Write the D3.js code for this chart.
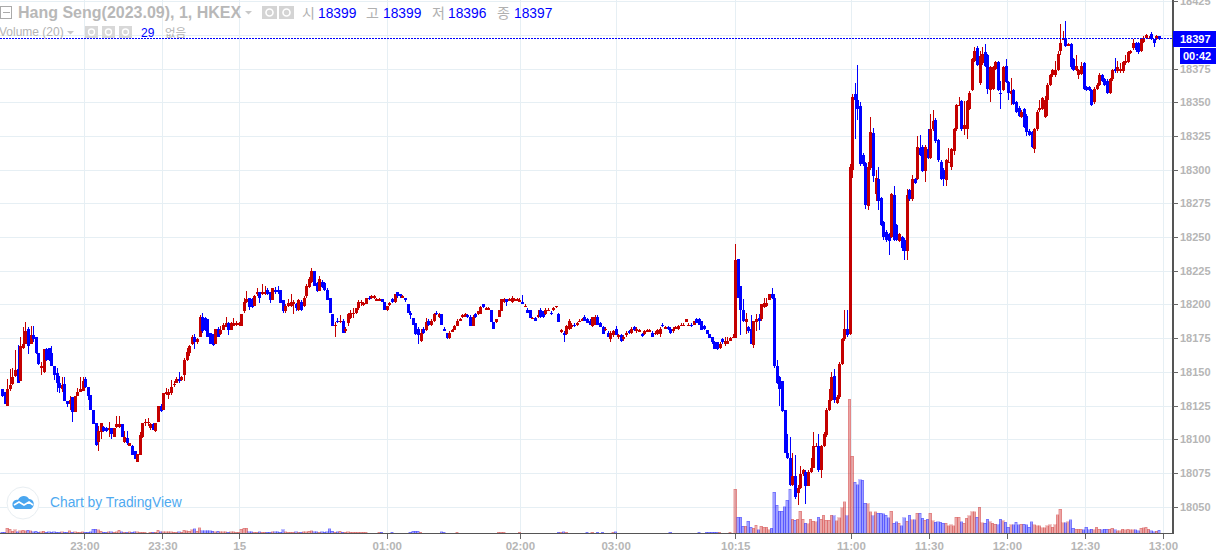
<!DOCTYPE html>
<html><head><meta charset="utf-8">
<script src="https://cdn.jsdelivr.net/npm/d3@7"></script>
<style>
html,body{margin:0;padding:0;background:#fff;overflow:hidden}
svg{display:block;font-family:"Liberation Sans",Arial,sans-serif}
.axis path,.axis line{shape-rendering:crispEdges}
</style></head><body><svg id="c" width="1216" height="551"></svg>
<script>
const priceBase = 18000;
const openOffsets = [
137,135,125,137,141,147,152,143,168,171,
182,171,177,176,164,153,150,167,168,164,
154,149,142,137,141,128,126,131,120,132,
135,136,145,139,133,122,112,98,105,109,
108,107,108,102,109,109,111,98,101,95,
95,91,83,88,102,112,113,108,111,106,
113,125,122,134,133,134,140,142,145,144,
148,159,164,171,176,172,176,191,190,189,
179,178,171,182,178,181,183,186,181,184,
186,185,184,195,202,205,204,199,208,209,
208,208,211,209,203,211,211,211,203,195,
199,199,200,200,196,202,199,206,213,217,
225,216,210,217,216,211,205,193,184,188,
187,188,180,186,190,193,194,197,201,200,
200,205,205,205,204,204,204,202,196,200,
204,202,209,208,206,205,200,194,190,186,
182,173,182,181,188,185,188,194,191,193,
182,179,175,181,181,184,189,191,191,192,
191,184,193,193,193,200,197,197,196,187,
187,191,195,202,204,204,202,204,204,203,
202,199,196,196,190,190,191,196,195,193,
196,194,196,198,193,181,179,178,182,183,
185,185,188,189,191,189,188,184,185,191,
186,183,181,179,174,177,182,176,177,174,
177,180,179,183,180,181,178,178,181,181,
179,178,178,178,185,183,183,182,180,183,
182,184,185,187,185,185,185,189,189,188,
184,181,178,176,172,172,168,174,171,171,
173,176,175,234,214,196,187,183,182,170,
187,190,189,198,199,203,208,205,154,146,
143,122,90,86,66,73,60,64,74,76,
65,76,79,95,95,77,95,103,122,129,
147,127,131,156,174,182,178,300,356,352,
347,311,305,273,301,327,282,293,279,261,
254,252,250,281,259,247,250,248,240,285,
278,293,293,316,317,299,315,309,330,337,
322,306,300,292,306,302,314,330,348,351,
330,330,345,359,381,390,364,379,387,385,
359,360,375,380,357,359,377,365,356,359,
350,346,339,345,340,329,328,315,330,344,
345,339,352,363,370,370,374,388,397,398,
393,393,382,374,370,371,379,361,361,359,
350,360,363,370,367,366,357,367,375,373,
373,373,379,380,387,390,394,394,388,395,
398,398,401,397,397,399];
const closeOffsets = [
132,126,137,140,146,151,142,169,171,180,
169,177,174,164,156,154,167,159,159,154,
148,142,138,140,128,126,129,120,132,135,
137,143,139,132,122,111,96,106,112,106,
106,108,104,108,111,111,102,102,97,97,
88,85,89,103,112,113,113,111,107,112,
125,121,134,135,135,139,141,145,143,146,
159,165,169,176,172,174,191,180,181,176,
171,170,182,176,181,185,186,181,186,186,
186,186,193,202,204,198,198,206,209,205,
209,209,208,203,212,209,209,201,195,199,
201,202,202,197,203,196,205,214,219,225,
214,210,219,213,211,203,194,184,185,187,
188,179,182,193,194,194,197,202,202,201,
205,204,206,206,204,204,202,196,199,201,
202,208,206,206,206,203,194,192,185,178,
177,179,179,187,185,188,193,193,193,185,
180,175,179,181,184,188,189,192,193,191,
184,191,191,195,198,198,197,197,187,182,
189,196,204,204,202,204,205,204,204,203,
200,199,194,190,190,188,192,191,191,196,
196,193,197,199,187,181,177,184,188,185,
184,186,188,189,188,186,185,191,191,185,
183,178,182,176,179,180,177,177,173,176,
179,179,182,181,182,181,177,180,181,181,
176,179,181,182,184,183,182,179,182,183,
184,185,185,189,185,184,188,186,185,181,
182,178,175,172,167,167,171,172,173,173,
175,176,233,205,196,188,189,180,171,188,
189,188,200,201,201,208,205,154,142,137,
121,90,86,66,73,57,64,74,77,65,
76,79,95,95,77,95,104,122,129,146,
129,131,156,174,182,177,302,354,352,345,
304,304,274,302,328,295,294,277,259,250,
248,247,282,248,248,252,242,240,281,278,
293,290,317,311,299,317,309,330,336,321,
307,293,293,307,306,315,330,348,348,330,
333,351,357,382,388,378,384,386,377,360,
376,376,380,359,356,376,365,357,358,349,
343,340,343,332,328,326,317,330,343,346,
353,352,363,370,374,374,386,394,397,392,
393,376,374,377,374,377,360,359,359,348,
360,363,370,366,363,357,367,374,373,376,
375,380,381,387,388,394,389,387,397,398,
400,398,397,394,399,397];
const highOffsets = [
137,135,145,152,153,166,170,176,183,187,
183,184,184,176,164,157,167,168,168,169,
154,153,147,146,146,128,132,131,132,138,
146,146,146,139,133,122,112,110,112,110,
109,113,108,108,117,117,111,106,106,97,
96,91,89,105,112,115,116,112,112,112,
125,126,134,138,137,144,143,146,150,147,
160,168,170,177,178,175,192,194,191,189,
179,178,182,183,184,186,191,187,187,190,
188,187,193,205,210,205,205,207,212,209,
215,214,212,209,212,213,214,211,203,200,
204,208,203,201,204,203,206,215,220,227,
225,217,221,218,217,212,205,193,187,190,
192,189,183,194,196,197,197,203,203,202,
205,206,207,207,205,205,204,202,199,202,
205,208,209,208,207,205,200,195,190,186,
183,182,183,190,189,189,194,195,194,193,
183,179,180,182,185,189,190,193,194,193,
192,192,194,195,199,200,198,198,196,187,
189,196,204,205,204,205,206,205,205,205,
207,200,197,196,191,191,196,197,195,197,
197,195,198,199,194,182,180,185,189,186,
186,187,189,190,192,190,189,191,192,192,
187,184,183,180,180,181,184,178,178,177,
180,181,183,184,183,182,179,181,182,182,
180,180,182,183,186,184,184,183,183,184,
185,186,186,189,186,186,188,190,190,188,
185,181,178,176,173,172,172,175,176,176,
176,178,245,234,214,204,194,184,192,188,
193,193,200,205,205,208,212,208,159,147,
143,122,104,102,90,88,66,80,78,77,
77,86,105,97,104,96,105,123,137,150,
152,133,157,175,196,196,304,356,364,378,
350,312,306,306,339,331,300,302,280,262,
255,253,283,288,260,253,251,249,286,286,
296,294,325,326,318,318,330,341,344,338,
323,307,301,308,316,316,331,349,354,352,
351,352,358,383,391,392,388,391,393,386,
377,377,381,381,366,377,382,366,368,360,
351,347,344,346,341,330,329,331,344,352,
354,355,364,371,375,381,388,408,403,410,
394,394,383,385,375,380,380,362,362,360,
361,364,372,371,368,367,368,375,383,381,
379,381,385,388,389,397,395,395,398,399,
401,399,402,397,400,399];
const lowOffsets = [
131,126,125,136,140,146,142,143,167,171,
163,171,172,163,155,148,149,158,158,154,
144,135,134,135,128,124,122,113,120,132,
135,136,138,129,122,111,95,91,100,105,
105,102,100,102,108,108,102,97,96,95,
88,85,83,88,101,110,110,107,107,105,
113,120,122,133,130,133,139,142,142,143,
143,158,162,170,167,171,176,179,180,176,
171,169,171,176,177,181,183,177,181,184,
184,184,184,194,201,196,197,199,206,201,
207,207,207,201,203,208,208,201,194,194,
198,198,193,195,195,195,198,205,212,216,
214,209,210,212,210,203,194,184,176,186,
186,179,179,184,189,190,193,196,199,199,
200,203,204,204,203,203,202,196,195,199,
201,201,205,205,205,202,194,189,185,177,
171,172,178,180,184,184,187,192,190,185,
180,174,174,180,181,184,188,190,191,190,
184,184,190,192,193,197,196,196,187,182,
186,191,195,201,199,203,201,203,203,202,
200,198,194,190,189,188,190,190,190,192,
195,192,195,197,187,179,172,177,181,182,
183,184,187,188,188,186,185,183,185,185,
183,178,180,176,172,176,177,174,172,173,
176,178,178,180,179,180,176,177,180,180,
176,177,177,176,183,182,181,178,179,182,
181,184,184,187,184,183,185,186,185,181,
181,178,175,171,167,166,167,171,169,171,
173,175,175,205,177,187,178,179,171,168,
180,181,188,197,198,203,204,153,141,125,
120,90,85,65,65,56,51,63,73,52,
65,75,79,94,76,71,94,102,121,128,
127,126,130,155,173,176,177,294,323,337,
303,303,271,270,300,291,277,270,258,248,
246,237,249,247,247,246,240,233,233,277,
277,289,292,310,298,291,308,308,329,320,
306,292,288,288,305,300,311,329,347,329,
326,323,344,358,380,377,363,378,376,356,
350,359,374,358,345,358,364,352,348,348,
342,339,338,331,325,325,316,312,329,343,
344,338,340,362,369,369,373,385,396,391,
392,375,373,373,367,370,359,358,358,347,
349,359,362,365,362,356,356,366,372,372,
372,372,378,379,386,389,387,386,387,394,
397,397,396,391,396,396];
const volumes = [
10,10,50,40,20,35,15,25,30,25,
30,25,15,20,10,15,20,10,15,10,
15,10,10,15,10,10,25,10,15,10,
10,15,10,10,15,40,40,35,20,10,
10,15,15,10,15,30,15,10,10,15,
10,15,15,10,10,10,0,10,10,10,
30,15,15,15,15,15,10,10,15,10,
30,25,20,35,45,20,55,25,25,25,
25,20,15,20,15,15,15,10,15,15,
10,10,40,50,50,15,15,10,10,15,
10,10,10,10,15,15,15,10,35,15,
10,10,10,15,10,10,15,15,20,25,
15,15,10,15,10,15,45,20,10,15,
20,10,10,15,10,10,10,10,10,10,
10,0,0,0,0,10,10,0,0,0,
10,0,0,0,0,0,0,10,20,20,
20,10,0,0,0,0,0,0,0,15,
10,0,0,0,0,10,0,0,0,0,
0,0,0,0,0,0,0,0,0,0,
0,10,10,10,0,0,0,0,0,10,
0,0,0,0,0,0,0,0,0,0,
0,0,0,0,10,10,15,10,0,0,
0,0,0,0,0,10,0,10,0,10,
0,10,0,0,0,10,15,0,0,0,
0,0,0,0,0,0,0,0,0,0,
0,0,0,0,0,0,0,10,0,0,
0,0,0,0,0,0,0,0,10,0,
0,10,10,10,10,10,10,0,0,0,
10,0,440,160,160,70,70,120,60,50,
80,35,70,60,60,35,50,410,280,220,
220,265,330,440,140,130,140,220,140,100,
95,140,120,115,160,140,180,130,130,180,
175,125,155,255,315,175,1340,770,510,485,
535,530,300,295,215,175,215,200,200,195,
180,155,220,100,115,100,75,155,120,180,
135,135,200,200,150,130,140,200,125,110,
115,110,100,100,75,85,75,160,160,115,
100,150,175,215,215,160,260,105,100,140,
115,100,90,85,140,125,110,60,85,85,
110,85,90,90,85,60,115,85,75,75,
55,55,75,85,60,85,185,240,105,105,
115,135,50,40,40,40,35,60,35,40,
35,60,40,35,40,40,40,50,35,25,
25,40,35,40,35,35,35,25,50,55,
60,40,25,15,20,29];
const priceTicks = [18050,18075,18100,18125,18150,18175,18200,18225,18250,18275,18300,18325,18350,18375,18400,18425];
const priceLabels = [18050,18075,18100,18125,18150,18175,18200,18225,18250,18275,18300,18325,18350,18375,18425];
const timeTickIndex = [31.7,61.7,91.2,148,199.2,236,282,326.5,356.5,386.5,416.5,446.5];
const timeTickLabels = ["23:00","23:30","15","01:00","02:00","03:00","10:15","11:00","11:30","12:00","12:30","13:00"];
const lastPrice = 18397;
const legendOHLC = [["시","18399"],["고","18399"],["저","18396"],["종","18397"]];

const RED="#c40000", BLUE="#0000ff", GRID="#e6eff4", AXIS="#555", TXT="#b6b6b6";
const svg=d3.select("#c");
const x=d3.scaleLinear().domain([0,445]).range([2,1159]);
const y=d3.scaleLinear().domain([18050,18425]).range([506.6,1.2]);
const yv=d3.scaleLinear().domain([0,1340]).range([533,399]);
const bars=openOffsets.map((o,i)=>({i,o:priceBase+o,c:priceBase+closeOffsets[i],h:priceBase+highOffsets[i],l:priceBase+lowOffsets[i],v:volumes[i]}));
const snap=v=>Math.round(v);

// grid
const g=svg.append("g").attr("shape-rendering","crispEdges").attr("stroke",GRID).attr("stroke-width",1);
g.selectAll(".h").data(priceTicks).join("line").attr("x1",0).attr("x2",1173).attr("y1",d=>snap(y(d))+.5).attr("y2",d=>snap(y(d))+.5);
g.selectAll(".v").data(timeTickIndex).join("line").attr("y1",0).attr("y2",533).attr("x1",d=>snap(x(d))+.5).attr("x2",d=>snap(x(d))+.5);

// volume
svg.append("g").attr("shape-rendering","crispEdges").selectAll("rect").data(bars.filter(d=>d.v>0)).join("rect")
 .attr("x",d=>x(d.i)-1.3).attr("width",2.6).attr("y",d=>yv(d.v)).attr("height",d=>533-yv(d.v))
 .attr("fill",d=>d.c>=d.o?"rgba(205,40,40,.42)":"rgba(0,0,255,.38)")
 .attr("stroke",d=>d.c>=d.o?"rgba(205,40,40,.35)":"rgba(0,0,255,.35)").attr("stroke-width",.7);

// candles
const cg=svg.append("g").attr("shape-rendering","crispEdges");
cg.selectAll(".w").data(bars).join("rect").attr("x",d=>snap(x(d.i))).attr("width",1).attr("y",d=>y(d.h)).attr("height",d=>Math.max(1,y(d.l)-y(d.h))).attr("fill",d=>d.c>=d.o?RED:BLUE);
cg.selectAll(".b").data(bars).join("rect").attr("x",d=>snap(x(d.i))-1).attr("width",3)
 .attr("y",d=>y(Math.max(d.o,d.c))).attr("height",d=>Math.max(1.5,Math.abs(y(d.o)-y(d.c)))).attr("fill",d=>d.c>=d.o?RED:BLUE);

// last price line
svg.append("line").attr("x1",0).attr("x2",1173).attr("y1",38.5).attr("y2",38.5)
 .attr("stroke",BLUE).attr("stroke-width",1).attr("stroke-dasharray","2 1").attr("shape-rendering","crispEdges");

// axes
const ay=svg.append("g").attr("class","axis").attr("transform","translate(1173,0)")
 .call(d3.axisRight(y).tickValues(priceLabels).tickSize(5).tickPadding(2).tickFormat(d3.format("d")));
ay.select(".domain").attr("d","M0,0V533").attr("stroke",AXIS).attr("stroke-width",2);
ay.selectAll("line").attr("stroke","#666");
ay.selectAll("text").attr("font-size",11).attr("font-weight","bold").attr("fill",TXT).attr("font-family","Liberation Sans");
const ax=svg.append("g").attr("class","axis").attr("transform","translate(0,533.5)")
 .call(d3.axisBottom(x).tickValues(timeTickIndex).tickSize(5).tickPadding(3).tickFormat((d,i)=>timeTickLabels[i]));
ax.select(".domain").attr("d","M0,0H1174").attr("stroke",AXIS).attr("stroke-width",1.5);
ax.selectAll("line").attr("stroke","#666");
ax.selectAll("text").attr("font-size",11.5).attr("font-weight","bold").attr("fill",TXT).attr("font-family","Liberation Sans");

// price labels
svg.append("rect").attr("x",1173).attr("y",31).attr("width",43).attr("height",16).attr("fill",BLUE);
svg.append("text").attr("x",1180).attr("y",43).attr("fill","#fff").attr("font-size",11).attr("font-weight","bold").text(lastPrice);
svg.append("rect").attr("x",1180).attr("y",48).attr("width",36).attr("height",16).attr("fill",BLUE);
svg.append("text").attr("x",1183).attr("y",60).attr("fill","#fff").attr("font-size",11).attr("font-weight","bold").text("00:42");

// legend
const kr='"Noto Sans CJK KR","Liberation Sans"';
const L=svg.append("g");
L.append("rect").attr("x",.5).attr("y",6.5).attr("width",11).attr("height",12).attr("fill","none").attr("stroke","#aaa");
L.append("line").attr("x1",3).attr("x2",10).attr("y1",12.5).attr("y2",12.5).attr("stroke","#aaa");
L.append("text").attr("x",18).attr("y",18).attr("font-size",16).attr("font-weight","bold").attr("fill","#b8b8b8").text("Hang Seng(2023.09), 1, HKEX");
L.append("path").attr("d","M245,11h7l-3.5,3.5z").attr("fill","#c8c8c8");
[262,279].forEach(px=>{L.append("rect").attr("x",px).attr("y",6).attr("width",15).attr("height",13).attr("fill","#d4d4d4");L.append("circle").attr("cx",px+7.5).attr("cy",12.5).attr("r",3.5).attr("fill","none").attr("stroke","#fff").attr("stroke-width",1.6);});
const lx=[[302,318],[366,383],[432,448],[497,514]];
legendOHLC.forEach((d,i)=>{
 L.append("text").attr("x",lx[i][0]).attr("y",18).attr("font-size",14).attr("fill","#b0b0b0").attr("font-family",kr).text(d[0]);
 L.append("text").attr("x",lx[i][1]).attr("y",18).attr("font-size",13.8).attr("fill",BLUE).text(d[1]);
});
L.append("text").attr("x",-1).attr("y",36).attr("font-size",12).attr("fill","#b4b4b4").text("Volume (20)");
L.append("path").attr("d","M67,31h7l-3.5,3.5z").attr("fill","#c8c8c8");
[85,102,119].forEach(px=>{L.append("rect").attr("x",px).attr("y",26).attr("width",13).attr("height",12).attr("fill","#d8d8d8");L.append("circle").attr("cx",px+6.5).attr("cy",32).attr("r",3).attr("fill","none").attr("stroke","#fff").attr("stroke-width",1.4);});
L.append("text").attr("x",141).attr("y",37).attr("font-size",12).attr("fill",BLUE).text("29");
L.append("text").attr("x",165).attr("y",37).attr("font-size",11.5).attr("fill","#b4b4b4").attr("font-family",kr).text("없음");

// watermark
const W=svg.append("g");
W.append("circle").attr("cx",23).attr("cy",503).attr("r",16).attr("fill","#fff").attr("stroke","#e8eef2");
W.append("path").attr("d","M13,507c-2,-5 2,-8 5,-7c2,-5 9,-5 11,-1c4,0 6,4 4,8l-2,2h-16z").attr("fill","#4aa6ef");
W.append("path").attr("d","M14,505l5,-3l5,3l5,-3l4,3").attr("fill","none").attr("stroke","#fff").attr("stroke-width",1.6);
W.append("text").attr("x",50).attr("y",507).attr("font-size",13.8).attr("fill","#4ea9f0").text("Chart by TradingView");
</script></body></html>
